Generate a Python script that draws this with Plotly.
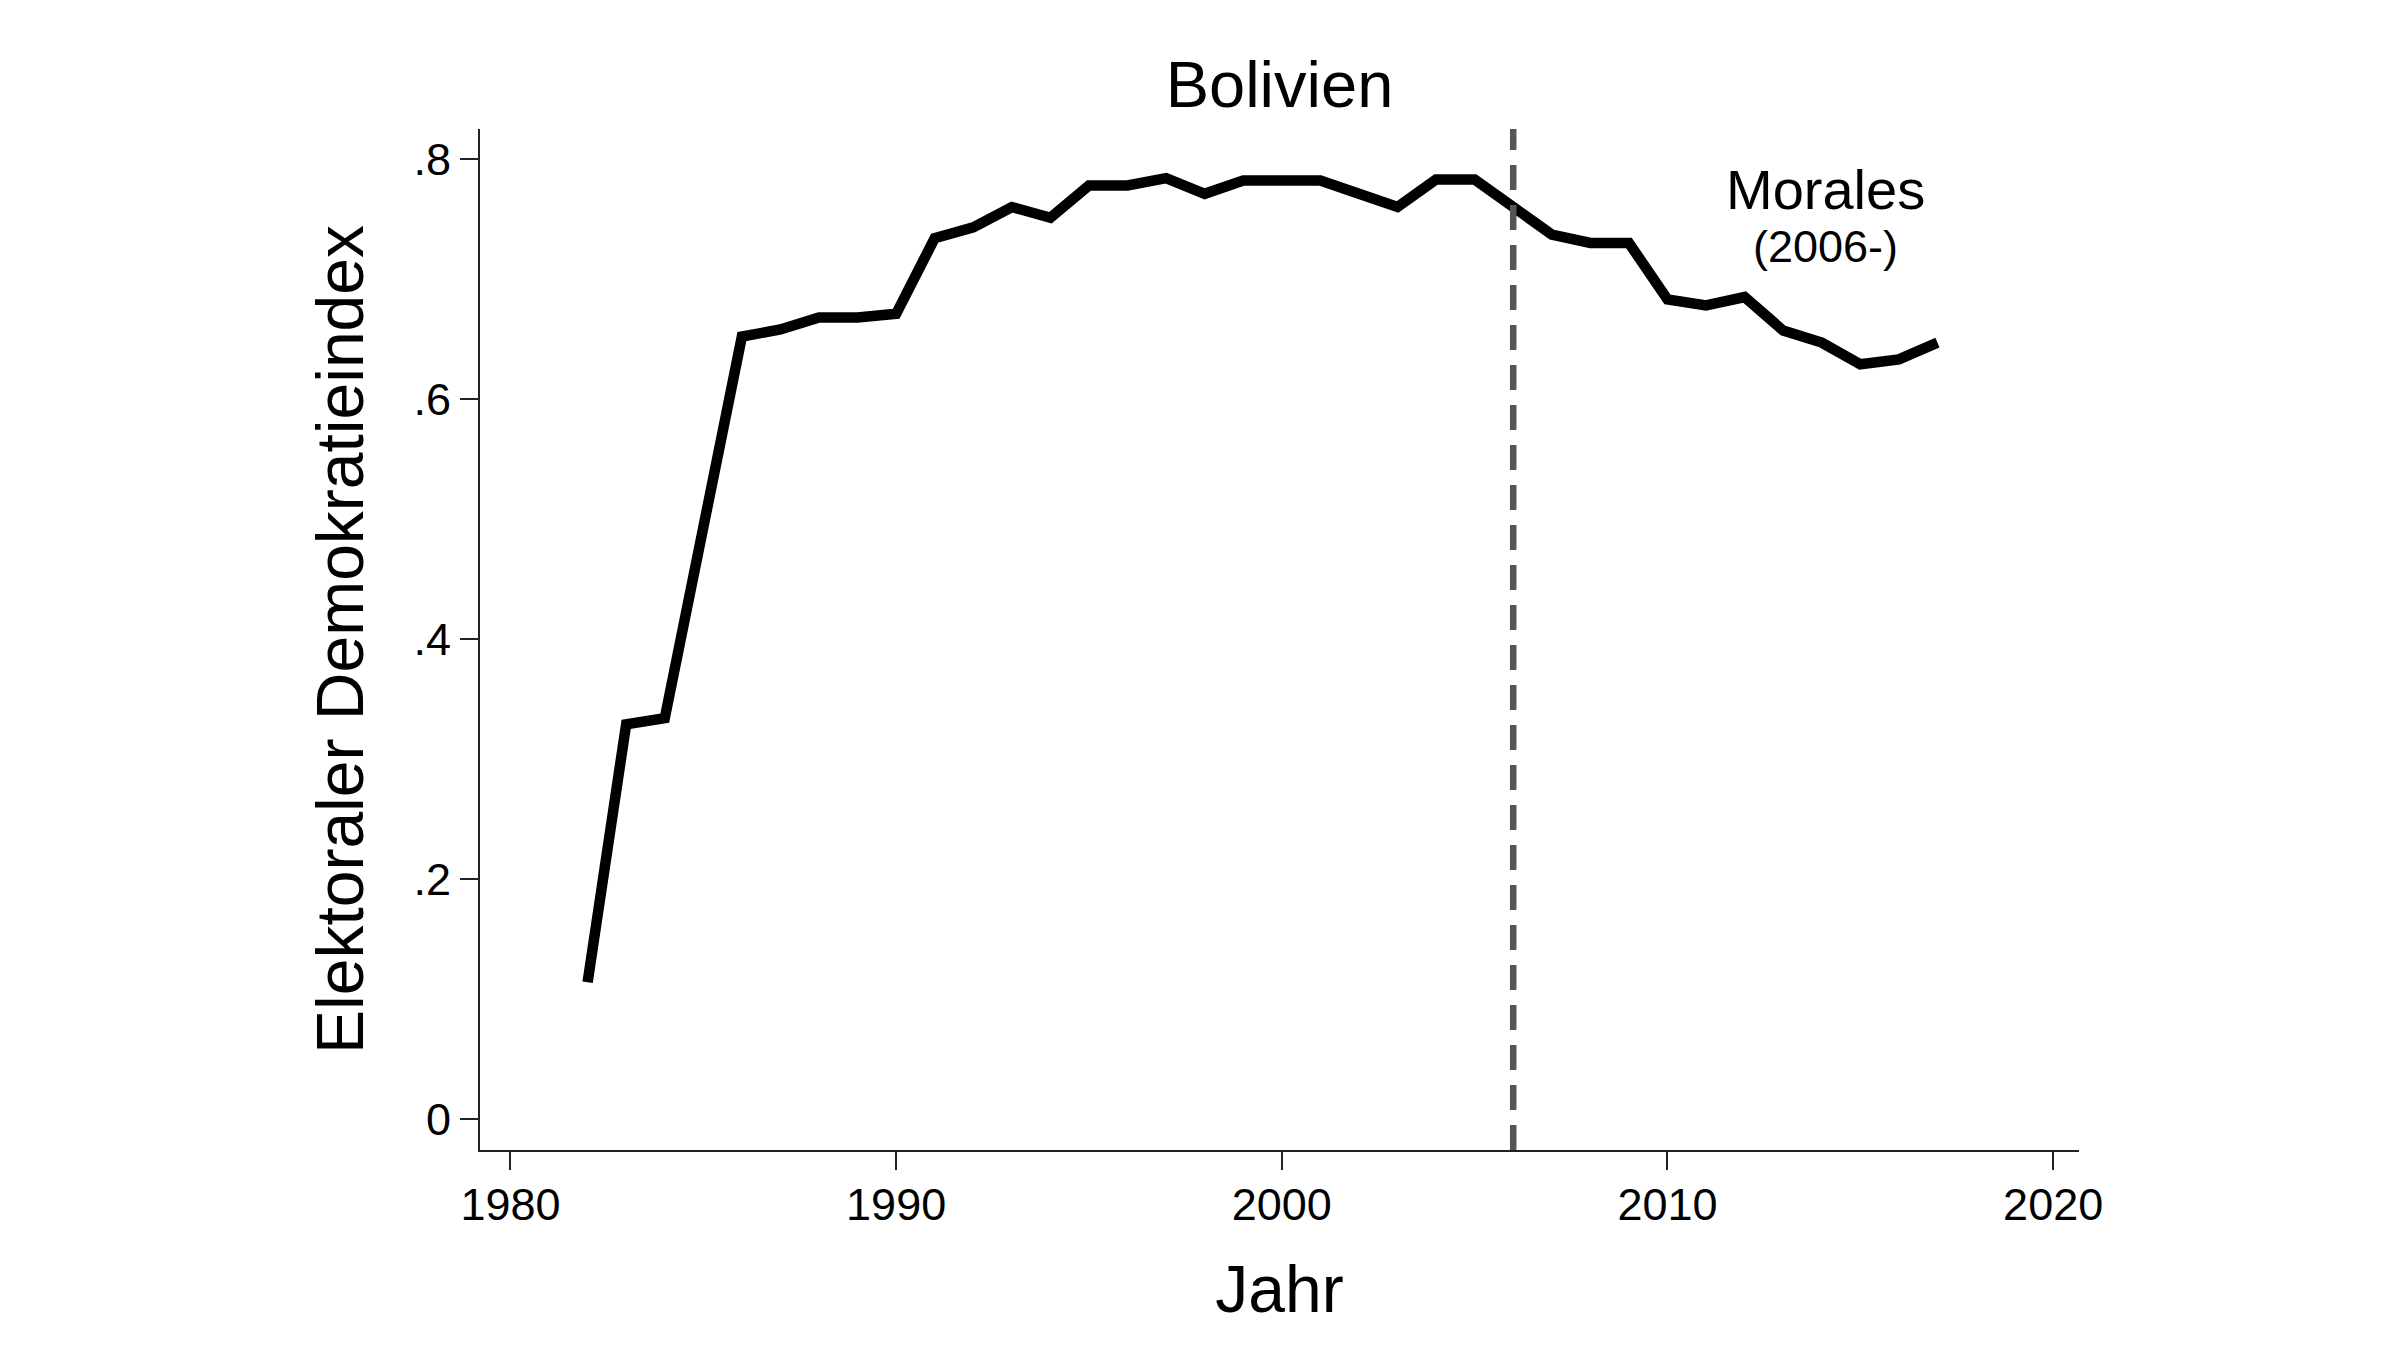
#!/usr/bin/env python3
"""
Electoral democracy index for Bolivia, with a marker at the start of the
Morales presidency (2006).
"""

import plotly.graph_objects as go

# Data
years = list(range(1982, 2018))
edi_values = [
    0.114, 0.329, 0.334, 0.490, 0.652, 0.658, 0.668, 0.668, 0.671, 0.734,
    0.743, 0.760, 0.751, 0.778, 0.778, 0.784, 0.771, 0.782, 0.782, 0.782,
    0.771, 0.760, 0.783, 0.783, 0.760, 0.737, 0.730, 0.730, 0.683, 0.678,
    0.685, 0.657, 0.647, 0.629, 0.633, 0.647,
]
x_ticks = [1980, 1990, 2000, 2010, 2020]
y_ticks = [0, 0.2, 0.4, 0.6, 0.8]
y_tick_labels = ['0', '.2', '.4', '.6', '.8']
event_year = 2006
event_label = 'Morales'
event_sublabel = '(2006-)'

FONT = 'Liberation Sans, Arial, sans-serif'
PAGE_OFFSET = 8  # default body margin of the html page

fig = go.Figure()

fig.add_trace(go.Scatter(
    x=years,
    y=edi_values,
    mode='lines',
    line=dict(color='black', width=10.5),
    showlegend=False,
))

# Vertical dashed line at the start of the Morales era
fig.add_shape(
    type='line',
    x0=event_year, x1=event_year,
    y0=0, y1=1,
    xref='x', yref='paper',
    line=dict(color='#555555', width=6.5, dash='25px,15px'),
)

axis_style = dict(
    showgrid=False,
    zeroline=False,
    showline=True,
    linecolor='#222222',
    linewidth=2,
    ticks='outside',
    ticklen=18,
    tickwidth=2,
    tickcolor='#222222',
    tickfont=dict(family=FONT, size=45, color='black'),
)

fig.update_xaxes(
    range=[1979.21, 2020.67],
    tickvals=x_ticks,
    ticklabelstandoff=-4,
    title=dict(text='Jahr', font=dict(family=FONT, size=66, color='black'), standoff=37),
    **axis_style,
)
fig.update_yaxes(
    range=[-0.0258, 0.825],
    tickvals=y_ticks,
    ticktext=y_tick_labels,
    title=dict(text='Elektoraler Demokratieindex',
               font=dict(family=FONT, size=66, color='black'), standoff=28),
    **axis_style,
)

fig.update_layout(
    width=2400,
    height=1350,
    margin=dict(l=480 - PAGE_OFFSET, r=321 + PAGE_OFFSET,
                t=129 - PAGE_OFFSET, b=200 + PAGE_OFFSET),
    paper_bgcolor='white',
    plot_bgcolor='white',
    title=dict(
        text='Bolivien',
        font=dict(family=FONT, size=65, color='black'),
        x=0.5, xref='paper', xanchor='center',
        y=1 - (84 - PAGE_OFFSET) / 1350, yref='container', yanchor='middle',
    ),
    annotations=[
        dict(text=event_label, x=2014.1, y=0.775, xref='x', yref='y',
             showarrow=False, xanchor='center', yanchor='middle',
             font=dict(family=FONT, size=56, color='black')),
        dict(text=event_sublabel, x=2014.1, y=0.727, xref='x', yref='y',
             showarrow=False, xanchor='center', yanchor='middle',
             font=dict(family=FONT, size=45, color='black')),
    ],
)

fig.write_html('out.html')
